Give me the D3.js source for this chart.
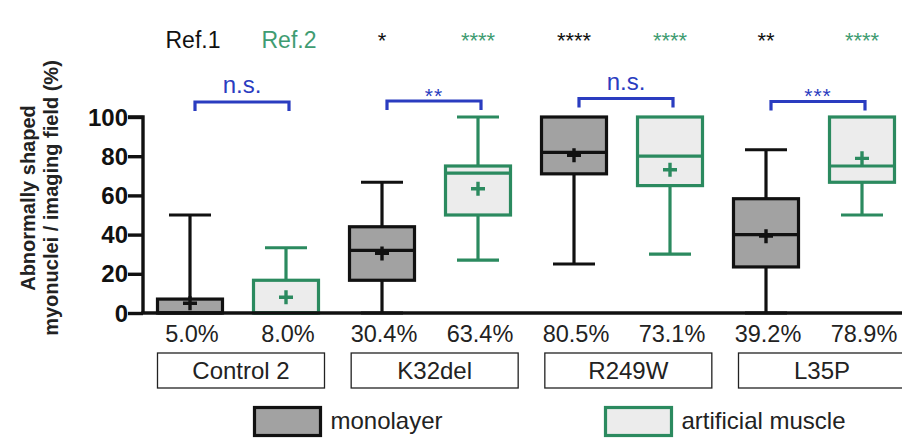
<!DOCTYPE html>
<html>
<head>
<meta charset="utf-8">
<script src="https://cdn.jsdelivr.net/npm/d3@7/dist/d3.min.js"></script>
<style>
  html, body { margin: 0; padding: 0; background: #fff; }
  svg { display: block; font-family: "Liberation Sans", Arial, Helvetica, sans-serif; }
</style>
</head>
<body>
<svg id="chart" width="902" height="438"></svg>
<script>
// Cell lines and culture conditions
const groups = ["Control 2", "K32del", "R249W", "L35P"];
const conditions = ["monolayer", "artificial muscle"];

// Box statistics (% abnormally shaped myonuclei per imaging field)
const monoMin    = [0,    0,    25,  0];
const monoQ1     = [0,    16.7, 71,  23.5];
const monoMedian = [0,    32,   82,  40];
const monoQ3     = [7.1,  44,   100, 58.3];
const monoMax    = [50,   66.7, 100, 83.3];
const monoMean   = [5.0,  30.4, 80.5, 39.2];

const artMin    = [0,    27,   30,  50];
const artQ1     = [0,    50,   65,  66.7];
const artMedian = [0,    71.4, 80,  75];
const artQ3     = [16.7, 75,   100, 100];
const artMax    = [33.3, 100,  100, 100];
const artMean   = [8.0,  63.4, 73.1, 78.9];

// Significance annotations
const monoRefLabels = ["Ref.1", "*", "****", "**"];
const artRefLabels  = ["Ref.2", "****", "****", "****"];
const pairLabels    = ["n.s.", "**", "n.s.", "***"];

// Axis ticks
const yTicks = [0, 20, 40, 60, 80, 100];

const svg = d3.select("#chart");
const BLACK = "#111";
const GREEN = "#2b8a5f";
const GREEN_TXT = "#3f9c72";
const BLUE = "#2a3cc0";
const MONO_FILL = "#a2a2a2";
const ART_FILL = "#ececec";
const TXT = "#222";

const y = d3.scaleLinear().domain([0, 100]).range([313, 117]);

// one slot per box: group × condition
const slots = [];
groups.forEach(g => conditions.forEach(c => slots.push(g + "|" + c)));
const x = d3.scalePoint().domain(slots).range([190, 862]);
const groupX = d3.scalePoint().domain(groups).range([241, 822]);

const boxes = [];
groups.forEach((g, i) => {
  boxes.push({ g, c: conditions[0], i, min: monoMin[i], q1: monoQ1[i], med: monoMedian[i], q3: monoQ3[i], max: monoMax[i], mean: monoMean[i], stroke: BLACK, fill: MONO_FILL, ref: monoRefLabels[i] });
  boxes.push({ g, c: conditions[1], i, min: artMin[i], q1: artQ1[i], med: artMedian[i], q3: artQ3[i], max: artMax[i], mean: artMean[i], stroke: GREEN, fill: ART_FILL, ref: artRefLabels[i] });
});

const boxW = 65, capW = 42, plus = 7;

// Y axis
const yAxis = d3.axisLeft(y).tickValues(yTicks).tickSize(15).tickPadding(0);
const gy = svg.append("g").attr("transform", "translate(143,0)").call(yAxis);
gy.select(".domain").attr("stroke", BLACK).attr("stroke-width", 3.4).attr("d", `M-15,${y(100)}H0V${y(0)}`);
gy.selectAll(".tick line").attr("stroke", BLACK).attr("stroke-width", 3.4);
gy.selectAll(".tick text").attr("fill", BLACK).attr("font-size", 24).attr("font-weight", "bold")
  .attr("dy", "0.34em")
  .attr("font-family", "'Liberation Sans', Arial, sans-serif");

// Y axis title
const title = svg.append("text")
  .attr("transform", "translate(0,198) rotate(-90)")
  .attr("text-anchor", "middle")
  .attr("font-size", 20).attr("font-weight", "bold").attr("fill", TXT);
title.append("tspan").attr("x", 0).attr("y", 35).text("Abnormally shaped");
title.append("tspan").attr("x", 0).attr("y", 58).text("myonuclei / imaging field (%)");

// Boxes
const bg = svg.append("g");
boxes.forEach(b => {
  const cx = x(b.g + "|" + b.c);
  const g = bg.append("g").attr("stroke", b.stroke).attr("stroke-width", 3.2).attr("fill", "none");
  // whiskers
  g.append("line").attr("x1", cx).attr("x2", cx).attr("y1", y(b.q3)).attr("y2", y(b.max));
  g.append("line").attr("x1", cx).attr("x2", cx).attr("y1", y(b.q1)).attr("y2", y(b.min));
  if (b.max > b.q3) g.append("line").attr("x1", cx - capW / 2).attr("x2", cx + capW / 2).attr("y1", y(b.max)).attr("y2", y(b.max));
  if (b.min < b.q1) g.append("line").attr("x1", cx - capW / 2).attr("x2", cx + capW / 2).attr("y1", y(b.min)).attr("y2", y(b.min));
  // box
  g.append("rect").attr("x", cx - boxW / 2).attr("width", boxW)
    .attr("y", y(b.q3)).attr("height", y(b.q1) - y(b.q3)).attr("fill", b.fill);
  // median
  g.append("line").attr("x1", cx - boxW / 2).attr("x2", cx + boxW / 2).attr("y1", y(b.med)).attr("y2", y(b.med));
  // mean marker
  g.append("path").attr("stroke-width", 3.4)
    .attr("d", `M${cx - plus},${y(b.mean)}H${cx + plus}M${cx},${y(b.mean) - plus}V${y(b.mean) + plus}`);
});

// X axis baseline
svg.append("line").attr("x1", 141.3).attr("x2", 902).attr("y1", y(0)).attr("y2", y(0))
  .attr("stroke", BLACK).attr("stroke-width", 3.4);

// Mean value labels
svg.append("g").selectAll("text").data(boxes).join("text")
  .attr("x", d => x(d.g + "|" + d.c) + 2).attr("y", 342)
  .attr("text-anchor", "middle").attr("font-size", 23.5).attr("fill", TXT)
  .text(d => d3.format(".1f")(d.mean) + "%");

// Group name boxes
const cat = svg.append("g").selectAll("g").data(groups).join("g")
  .attr("transform", d => `translate(${groupX(d)},0)`);
cat.append("rect").attr("x", -83.5).attr("width", 167).attr("y", 353).attr("height", 35)
  .attr("fill", "#fff").attr("stroke", "#222").attr("stroke-width", 1.3);
cat.append("text").attr("x", 0).attr("y", 378.5).attr("text-anchor", "middle")
  .attr("font-size", 24).attr("fill", TXT).text(d => d);

// Reference comparisons row
const isRef = d => d.ref.startsWith("Ref");
svg.append("g").selectAll("text").data(boxes).join("text")
  .attr("x", d => x(d.g + "|" + d.c) + (isRef(d) ? 3 : 0)).attr("y", 48)
  .attr("text-anchor", "middle")
  .attr("font-size", d => isRef(d) ? 23 : 22)
  .attr("fill", d => d.c === conditions[0] ? BLACK : GREEN_TXT)
  .text(d => d.ref);

// Pairwise brackets
const bracketY = [102, 101, 98.5, 101.5];
const br = svg.append("g");
groups.forEach((g, i) => {
  const x1 = x(g + "|" + conditions[0]) + 5;
  const x2 = x(g + "|" + conditions[1]) + 3;
  const top = bracketY[i];
  br.append("path").attr("fill", "none").attr("stroke", BLUE).attr("stroke-width", 3.2)
    .attr("d", `M${x1},${top + 9}V${top}H${x2}V${top + 9}`);
  const ns = pairLabels[i] === "n.s.";
  br.append("text").attr("x", (x1 + x2) / 2).attr("y", ns ? top - 9 : top + 1.5)
    .attr("text-anchor", "middle")
    .attr("font-size", ns ? 24 : 21)
    .attr("letter-spacing", ns ? 0 : 1)
    .attr("fill", BLUE).text(pairLabels[i]);
});

// Legend
const legendX = [254.5, 605.5];
const lg = svg.append("g").selectAll("g").data(conditions).join("g")
  .attr("transform", (d, i) => `translate(${legendX[i]},407.5)`);
lg.append("rect").attr("width", 66).attr("height", 28)
  .attr("fill", (d, i) => i === 0 ? MONO_FILL : ART_FILL)
  .attr("stroke", (d, i) => i === 0 ? BLACK : GREEN).attr("stroke-width", 3.2);
lg.append("text").attr("x", 76).attr("y", 21).attr("font-size", 24).attr("fill", TXT).text(d => d);
</script>
</body>
</html>
